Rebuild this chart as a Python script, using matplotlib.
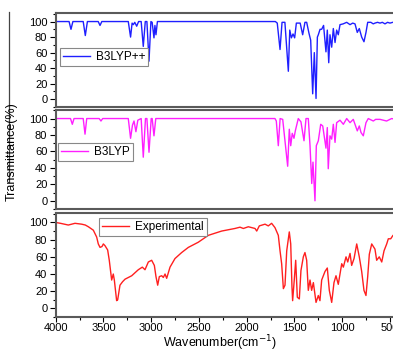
import matplotlib
matplotlib.use("Agg")
import matplotlib.pyplot as plt
from matplotlib.lines import Line2D
from matplotlib.ticker import MultipleLocator

plt.rcParams['font.family'] = ['Liberation Sans', 'DejaVu Sans']

# ---- data ----
wn_b3lyppp = [4000, 3860, 3840, 3820, 3712, 3690, 3668, 3555, 3536, 3517,
              3240, 3216, 3200, 3187, 3172, 3152, 3132, 3105, 3083, 3062,
              3045, 3023, 3003, 2990, 2971, 2961, 2950, 2935,
              1700, 1680, 1651, 1630, 1600, 1564, 1549, 1532, 1515, 1498,
              1480, 1440, 1414, 1390, 1372, 1348, 1330, 1309, 1292, 1274,
              1260, 1250, 1232, 1215, 1195, 1170, 1156, 1141, 1128, 1110,
              1093, 1075, 1058, 1041, 1023, 990, 953, 918, 890, 866, 842,
              821, 796, 772, 751, 733, 700, 675, 657, 630, 604, 580, 552,
              525, 500, 470, 400]
t_b3lyppp = [100, 100, 90, 100, 100, 82, 100, 100, 95, 100,
             100, 80, 98, 96, 99, 94, 100, 100, 68, 100,
             100, 49, 100, 99, 79, 95, 83, 100,
             100, 98, 64, 99, 99, 36, 89, 79, 84, 79,
             98, 98, 83, 99, 99, 85, 76, 7, 60, 1,
             80, 83, 90, 90, 95, 61, 89, 47, 83, 67,
             91, 73, 89, 83, 96, 97, 99, 96, 98, 97, 86,
             91, 80, 74, 86, 99, 99, 97, 98, 99, 98, 99, 97,
             99, 98, 99, 99]

wn_b3lyp = [4000, 3845, 3826, 3808, 3712, 3693, 3675, 3545, 3526, 3508,
            3240, 3216, 3196, 3180, 3160, 3140, 3105, 3083, 3060, 3045,
            3023, 3000, 2990, 2971, 2952,
            1704, 1690, 1669, 1650, 1623, 1571, 1554, 1539, 1523, 1505,
            1491, 1460, 1432, 1400, 1379, 1355, 1337, 1319, 1306, 1285,
            1271, 1250, 1225, 1204, 1170, 1156, 1146, 1128, 1110, 1093,
            1075, 1058, 1023, 988, 953, 918, 884, 842, 821, 803, 779, 751,
            727, 674, 650, 604, 570, 535, 500, 482, 440, 400]
t_b3lyp = [100, 100, 93, 100, 100, 81, 100, 100, 97, 100,
           100, 76, 92, 97, 84, 98, 100, 53, 100, 100,
           59, 100, 100, 79, 100,
           100, 97, 67, 100, 99, 42, 87, 67, 82, 76,
           85, 100, 96, 73, 100, 100, 67, 21, 47, 0,
           67, 73, 93, 91, 64, 89, 39, 79, 75, 93,
           71, 95, 98, 93, 100, 95, 99, 85, 91, 83, 79, 95,
           100, 97, 99, 99, 98, 97, 99, 100, 99, 100]

wn_exp = [4000, 3950, 3868, 3798, 3728, 3690, 3658, 3606, 3571, 3554, 3536,
          3515, 3501, 3484, 3456, 3439, 3414, 3397, 3386, 3362, 3351, 3327,
          3300, 3274, 3204, 3135, 3093, 3065, 3030, 2995, 2967, 2950, 2932,
          2915, 2890, 2873, 2855, 2838, 2803, 2751, 2681, 2611, 2507, 2402,
          2262, 2123, 2070, 2035, 1983, 1913, 1895, 1868, 1808, 1774, 1739,
          1704, 1669, 1651, 1634, 1616, 1599, 1581, 1554, 1539, 1526, 1519,
          1502, 1487, 1470, 1449, 1432, 1407, 1390, 1372, 1355, 1337, 1320,
          1302, 1274, 1250, 1233, 1215, 1180, 1156, 1135, 1110, 1086, 1065,
          1041, 1005, 988, 960, 942, 918, 901, 876, 848, 821, 796, 772, 751,
          733, 716, 691, 657, 639, 612, 586, 562, 534, 517, 492, 468, 440, 400]
t_exp = [100, 99, 97, 99, 98, 97, 95, 91, 83, 75, 71,
         72, 75, 73, 68, 56, 33, 40, 33, 9, 10, 27,
         31, 34, 38, 45, 48, 45, 54, 56, 50, 37, 27,
         37, 38, 36, 40, 35, 48, 58, 65, 71, 77, 85,
         90, 93, 94.5, 93, 95, 93, 90, 96, 98, 96, 99,
         94, 85, 67, 52, 23, 27, 67, 89, 75, 25, 9,
         33, 56, 13, 11, 44, 60, 65, 56, 21, 33, 21,
         30, 7, 15, 9, 33, 43, 47, 21, 7, 30, 38,
         28, 52, 48, 60, 54, 64, 50, 58, 75, 60, 43, 21, 15,
         37, 63, 75, 69, 56, 60, 54, 67, 75, 81, 81, 85, 86, 88]

labels = ["B3LYP++", "B3LYP", "Experimental"]
colors = ["#1f1fff", "#ff1fff", "#ff1f1f"]
yticks = [0, 20, 40, 60, 80, 100]
xticks = [4000, 3500, 3000, 2500, 2000, 1500, 1000, 500]

W, H = 393, 352
fig = plt.figure(figsize=(W / 100, H / 100), dpi=100)

left = 55.7 / W
width = 343.8 / W
panels = [(13, 107), (109.5, 209), (213, 317)]
legend_pos = [(60, 48), (58, 143), (99, 218)]
series = [(wn_b3lyppp, t_b3lyppp), (wn_b3lyp, t_b3lyp), (wn_exp, t_exp)]

axes = []
for i, ((top, bot), (lx, ly), (xs, ys)) in enumerate(zip(panels, legend_pos, series)):
    ax = fig.add_axes([left, 1 - bot / H, width, (bot - top) / H])
    ax.plot(xs, ys, color=colors[i], lw=1.0, label=labels[i])
    ax.set_xlim(4000, 400)
    ax.set_ylim(-10, 111)
    ax.set_yticks(yticks)
    ax.yaxis.set_minor_locator(MultipleLocator(10))
    ax.set_xticks(xticks)
    ax.xaxis.set_minor_locator(MultipleLocator(250))
    for s in ax.spines.values():
        s.set_color('#5a5a5a')
        s.set_linewidth(1.5)
    ax.tick_params(axis='y', which='major', direction='out', length=4, width=0.8,
                   labelsize=8, pad=2, right=False)
    ax.tick_params(axis='y', which='minor', direction='out', length=2, width=0.8, right=False)
    if i < 2:
        ax.tick_params(axis='x', which='both', bottom=False, top=False, labelbottom=False)
    else:
        ax.tick_params(axis='x', which='major', direction='out', length=3.5, width=0.8,
                       labelsize=8, pad=1, top=False)
        ax.tick_params(axis='x', which='minor', direction='out', length=2, width=0.8, top=False)
    leg = ax.legend(loc='upper left', bbox_to_anchor=(lx / W, 1 - ly / H),
                    bbox_transform=fig.transFigure, borderaxespad=0,
                    fontsize=8.5, frameon=True, fancybox=False, framealpha=1,
                    edgecolor='#888888', handlelength=2.3, handletextpad=0.5,
                    borderpad=0.25)
    leg.get_frame().set_linewidth(0.8)
    axes.append(ax)

fig.text(220 / W, 1 - 347 / H, "Wavenumber(cm$^{-1}$)", fontsize=9,
         ha='center', va='baseline')

fig.text(12 / W, 1 - 152 / H, "Transmittance(%)", rotation=90, fontsize=9,
         ha='center', va='center')
fig.add_artist(Line2D([9 / W, 9 / W], [1 - 12 / H, 1 - 182 / H],
                      color='#444444', lw=0.9, transform=fig.transFigure))

fig.savefig("out.png", dpi=100)
